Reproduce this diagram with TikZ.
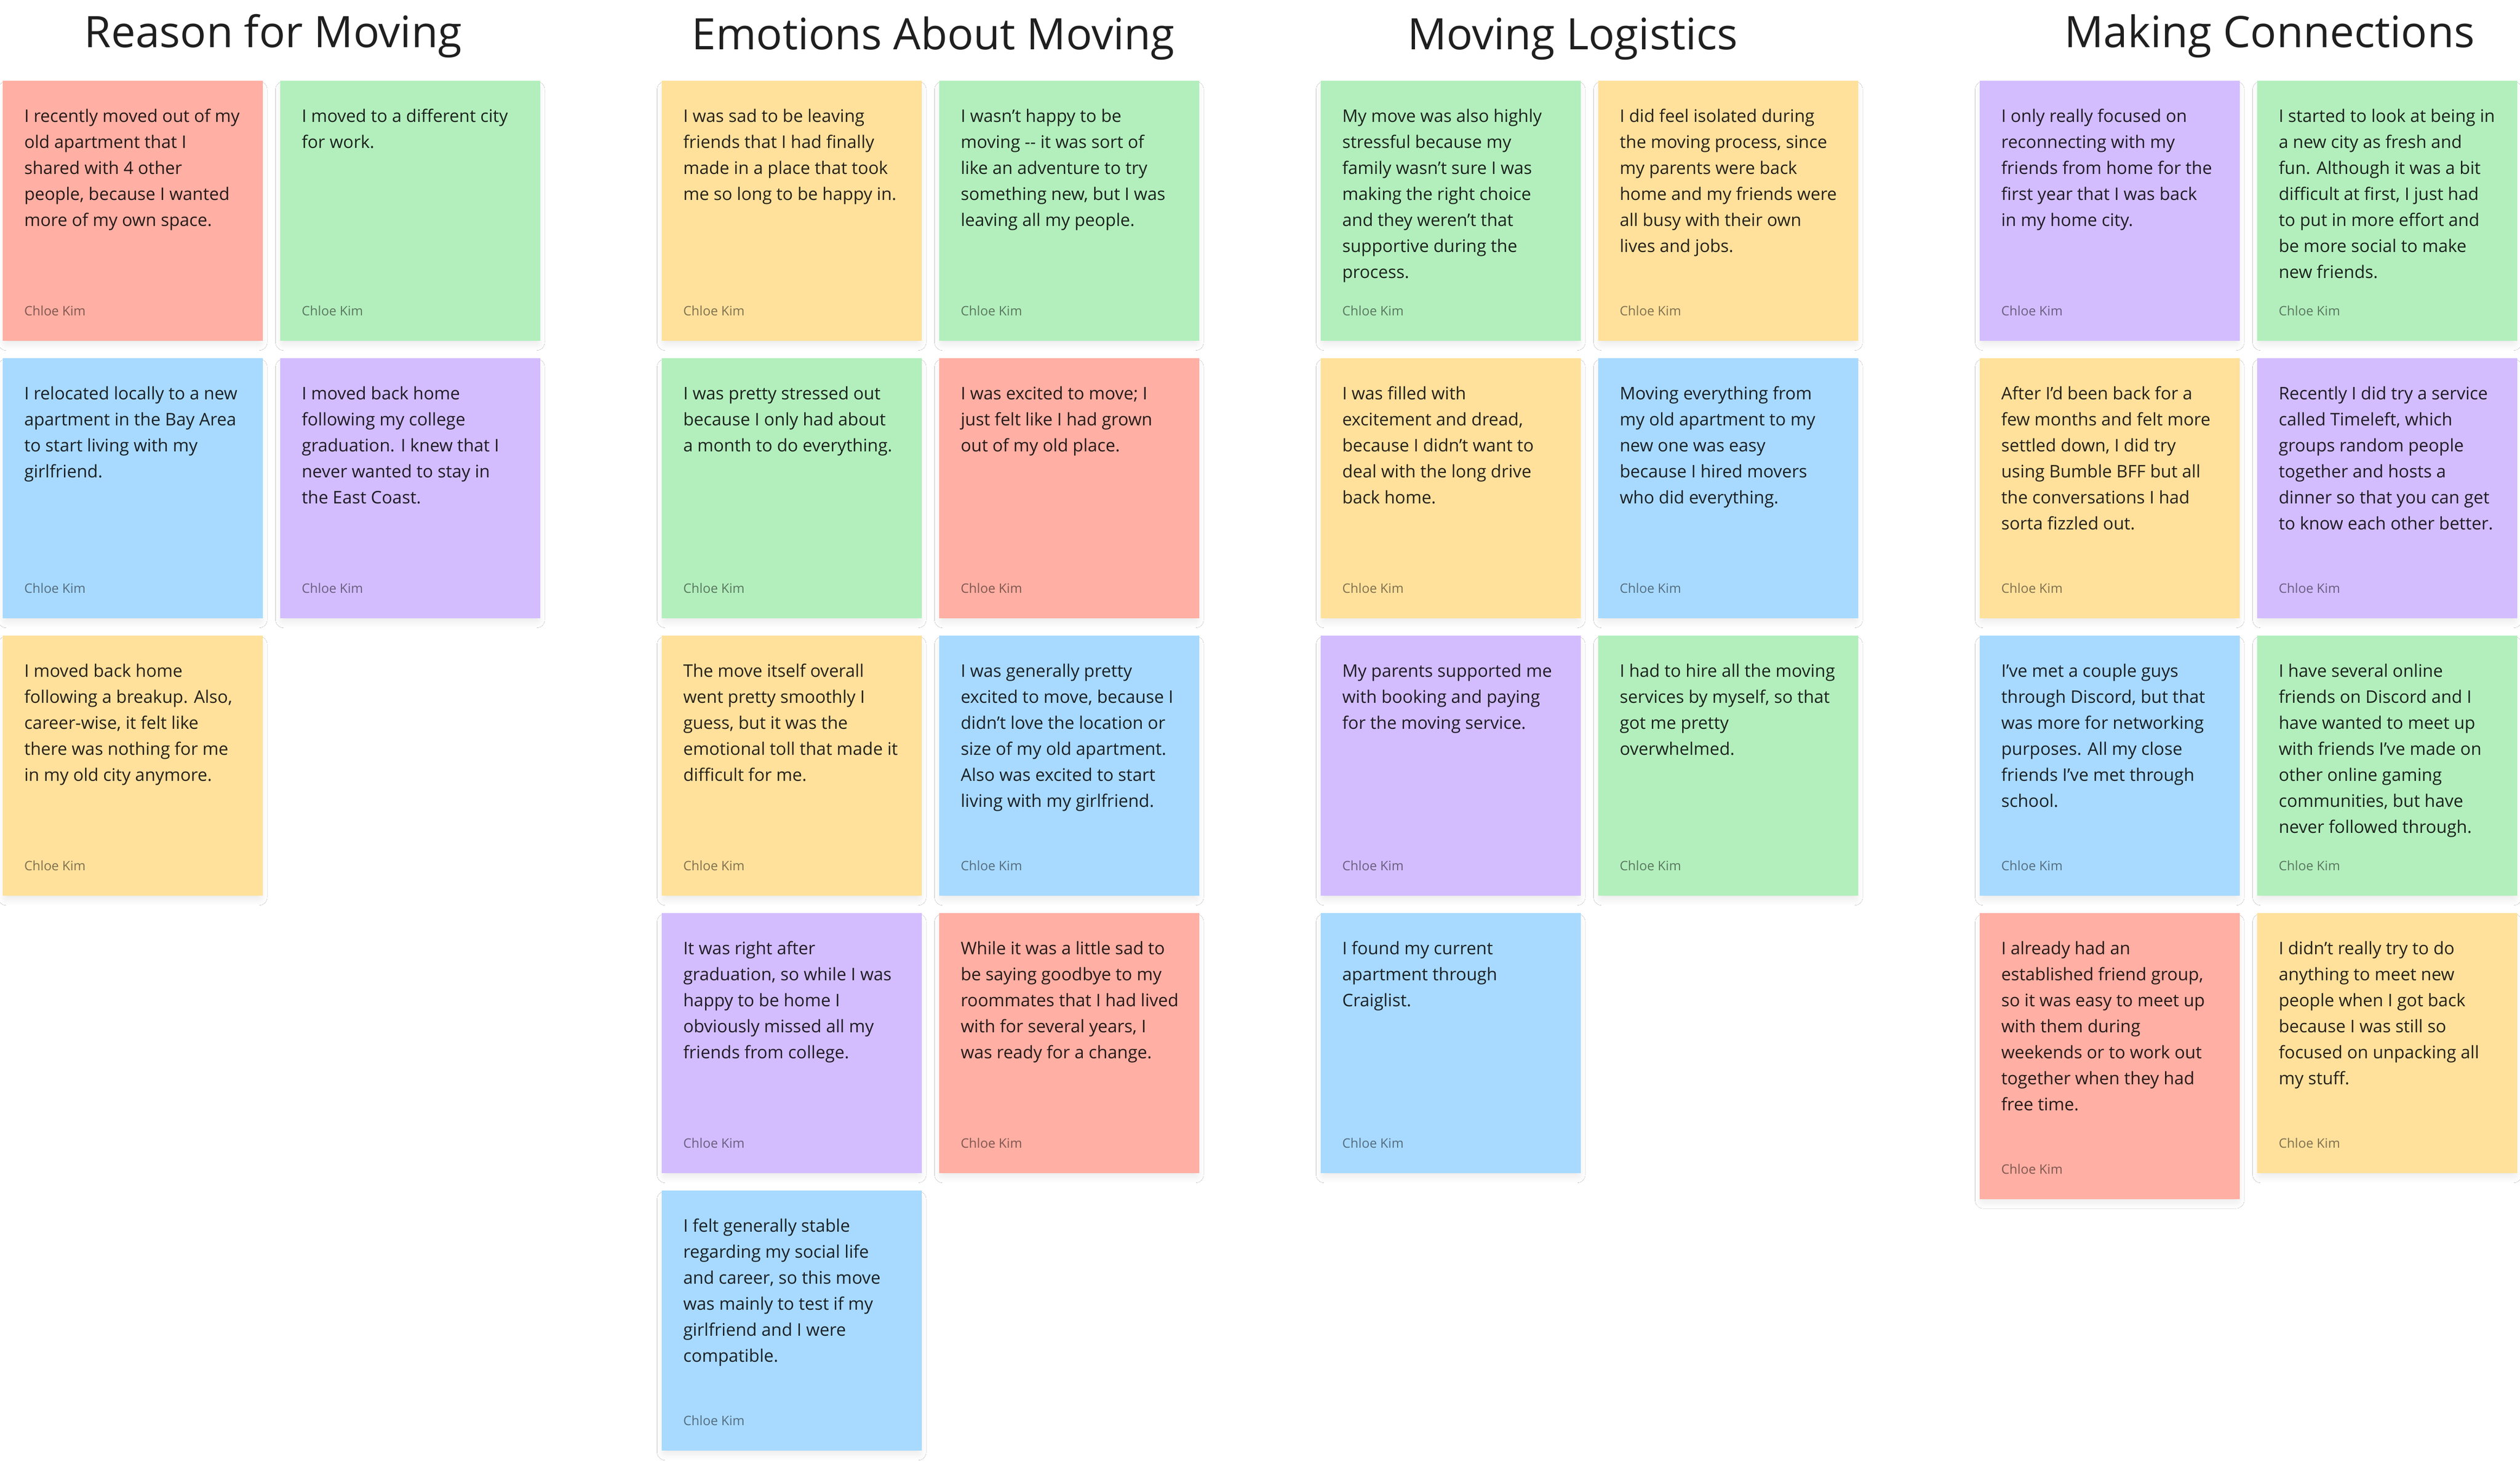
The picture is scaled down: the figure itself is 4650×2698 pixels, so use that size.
\documentclass[tikz,border=0pt]{standalone}
\usepackage{fontspec}
\setmainfont{Open Sans}
\usepackage{tikz}
\usetikzlibrary{shadows.blur}
\definecolor{notered}{HTML}{FFAFA3}
\definecolor{notegreen}{HTML}{B3EFBD}
\definecolor{noteyellow}{HTML}{FFE19C}
\definecolor{noteblue}{HTML}{A8DAFF}
\definecolor{noteviolet}{HTML}{D3BDFF}
\tikzset{
  sticky/.style={anchor=north west,inner sep=0pt,minimum width=120pt,
    blur shadow={shadow xshift=0pt,shadow yshift=-2.5pt,shadow scale=.97,
      shadow blur radius=4pt,shadow blur steps=8,shadow opacity=12}},
  notetext/.style={anchor=base west,inner sep=0pt,text=black,text opacity=.85,
    font=\fontsize{8pt}{12pt}\selectfont},
  author/.style={anchor=base west,inner sep=0pt,text=black,text opacity=.5,
    font=\fontsize{6pt}{7pt}\selectfont},
  heading/.style={anchor=base,inner sep=0pt,text=black!88,font=\fontsize{20pt}{24pt}\selectfont}
}
% name, x, y, colour, height, lines
\newcommand{\sticky}[6]{%
  \node[sticky,fill=#4,minimum height=#5] (#1) at (#2,#3) {};
  \node[notetext] (#1t) at ([xshift=10pt,yshift=-19.25pt]#1.north west)
    {\begin{tabular}[t]{@{}l@{}}#6\end{tabular}};
  \node[author] (#1a) at ([xshift=10pt,yshift=11.75pt]#1.south west) {Chloe Kim};
}

\begin{document}
\begin{tikzpicture}[x=0.25pt,y=-0.25pt]
\useasboundingbox[fill=white] (0,0) rectangle (4650,2698);

%headings
\node[heading] (reason) at (504,87) {Reason for Moving};
\node[heading] (emotions) at (1722,92) {Emotions About Moving};
\node[heading] (logistics) at (2902,92) {Moving Logistics};
\node[heading] (connect) at (4188,87) {Making Connections};

%reason for moving
\sticky{ra}{4}{148}{notered}{120pt}{I recently moved out of my\\old apartment that I\\shared with 4 other\\people, because I wanted\\more of my own space.}
\sticky{rb}{516}{148}{notegreen}{120pt}{I moved to a different city\\for work.}
\sticky{rc}{4}{660}{noteblue}{120pt}{I relocated locally to a new\\apartment in the Bay Area\\to start living with my\\girlfriend.}
\sticky{rd}{516}{660}{noteviolet}{120pt}{I moved back home\\following my college\\graduation. I knew that I\\never wanted to stay in\\the East Coast.}
\sticky{re}{4}{1172}{noteyellow}{120pt}{I moved back home\\following a breakup. Also,\\career-wise, it felt like\\there was nothing for me\\in my old city anymore.}

%emotions about moving
\sticky{ea}{1220}{148}{noteyellow}{120pt}{I was sad to be leaving\\friends that I had finally\\made in a place that took\\me so long to be happy in.}
\sticky{eb}{1732}{148}{notegreen}{120pt}{I wasn’t happy to be\\moving -{}- it was sort of\\like an adventure to try\\something new, but I was\\leaving all my people.}
\sticky{ec}{1220}{660}{notegreen}{120pt}{I was pretty stressed out\\because I only had about\\a month to do everything.}
\sticky{ed}{1732}{660}{notered}{120pt}{I was excited to move; I\\just felt like I had grown\\out of my old place.}
\sticky{ee}{1220}{1172}{noteyellow}{120pt}{The move itself overall\\went pretty smoothly I\\guess, but it was the\\emotional toll that made it\\difficult for me.}
\sticky{ef}{1732}{1172}{noteblue}{120pt}{I was generally pretty\\excited to move, because I\\didn’t love the location or\\size of my old apartment.\\Also was excited to start\\living with my girlfriend.}
\sticky{eg}{1220}{1684}{noteviolet}{120pt}{It was right after\\graduation, so while I was\\happy to be home I\\obviously missed all my\\friends from college.}
\sticky{eh}{1732}{1684}{notered}{120pt}{While it was a little sad to\\be saying goodbye to my\\roommates that I had lived\\with for several years, I\\was ready for a change.}
\sticky{ei}{1220}{2196}{noteblue}{120pt}{I felt generally stable\\regarding my social life\\and career, so this move\\was mainly to test if my\\girlfriend and I were\\compatible.}

%moving logistics
\sticky{la}{2436}{148}{notegreen}{120pt}{My move was also highly\\stressful because my\\family wasn’t sure I was\\making the right choice\\and they weren’t that\\supportive during the\\process.}
\sticky{lb}{2948}{148}{noteyellow}{120pt}{I did feel isolated during\\the moving process, since\\my parents were back\\home and my friends were\\all busy with their own\\lives and jobs.}
\sticky{lc}{2436}{660}{noteyellow}{120pt}{I was filled with\\excitement and dread,\\because I didn’t want to\\deal with the long drive\\back home.}
\sticky{ld}{2948}{660}{noteblue}{120pt}{Moving everything from\\my old apartment to my\\new one was easy\\because I hired movers\\who did everything.}
\sticky{le}{2436}{1172}{noteviolet}{120pt}{My parents supported me\\with booking and paying\\for the moving service.}
\sticky{lf}{2948}{1172}{notegreen}{120pt}{I had to hire all the moving\\services by myself, so that\\got me pretty\\overwhelmed.}
\sticky{lg}{2436}{1684}{noteblue}{120pt}{I found my current\\apartment through\\Craiglist.}

%making connections
\sticky{ca}{3652}{148}{noteviolet}{120pt}{I only really focused on\\reconnecting with my\\friends from home for the\\first year that I was back\\in my home city.}
\sticky{cb}{4164}{148}{notegreen}{120pt}{I started to look at being in\\a new city as fresh and\\fun. Although it was a bit\\difficult at first, I just had\\to put in more effort and\\be more social to make\\new friends.}
\sticky{cc}{3652}{660}{noteyellow}{120pt}{After I’d been back for a\\few months and felt more\\settled down, I did try\\using Bumble BFF but all\\the conversations I had\\sorta fizzled out.}
\sticky{cd}{4164}{660}{noteviolet}{120pt}{Recently I did try a service\\called Timeleft, which\\groups random people\\together and hosts a\\dinner so that you can get\\to know each other better.}
\sticky{ce}{3652}{1172}{noteblue}{120pt}{I’ve met a couple guys\\through Discord, but that\\was more for networking\\purposes. All my close\\friends I’ve met through\\school.}
\sticky{cf}{4164}{1172}{notegreen}{120pt}{I have several online\\friends on Discord and I\\have wanted to meet up\\with friends I’ve made on\\other online gaming\\communities, but have\\never followed through.}
\sticky{cg}{3652}{1684}{notered}{132pt}{I already had an\\established friend group,\\so it was easy to meet up\\with them during\\weekends or to work out\\together when they had\\free time.}
\sticky{ch}{4164}{1684}{noteyellow}{120pt}{I didn’t really try to do\\anything to meet new\\people when I got back\\because I was still so\\focused on unpacking all\\my stuff.}
\end{tikzpicture}
\end{document}
